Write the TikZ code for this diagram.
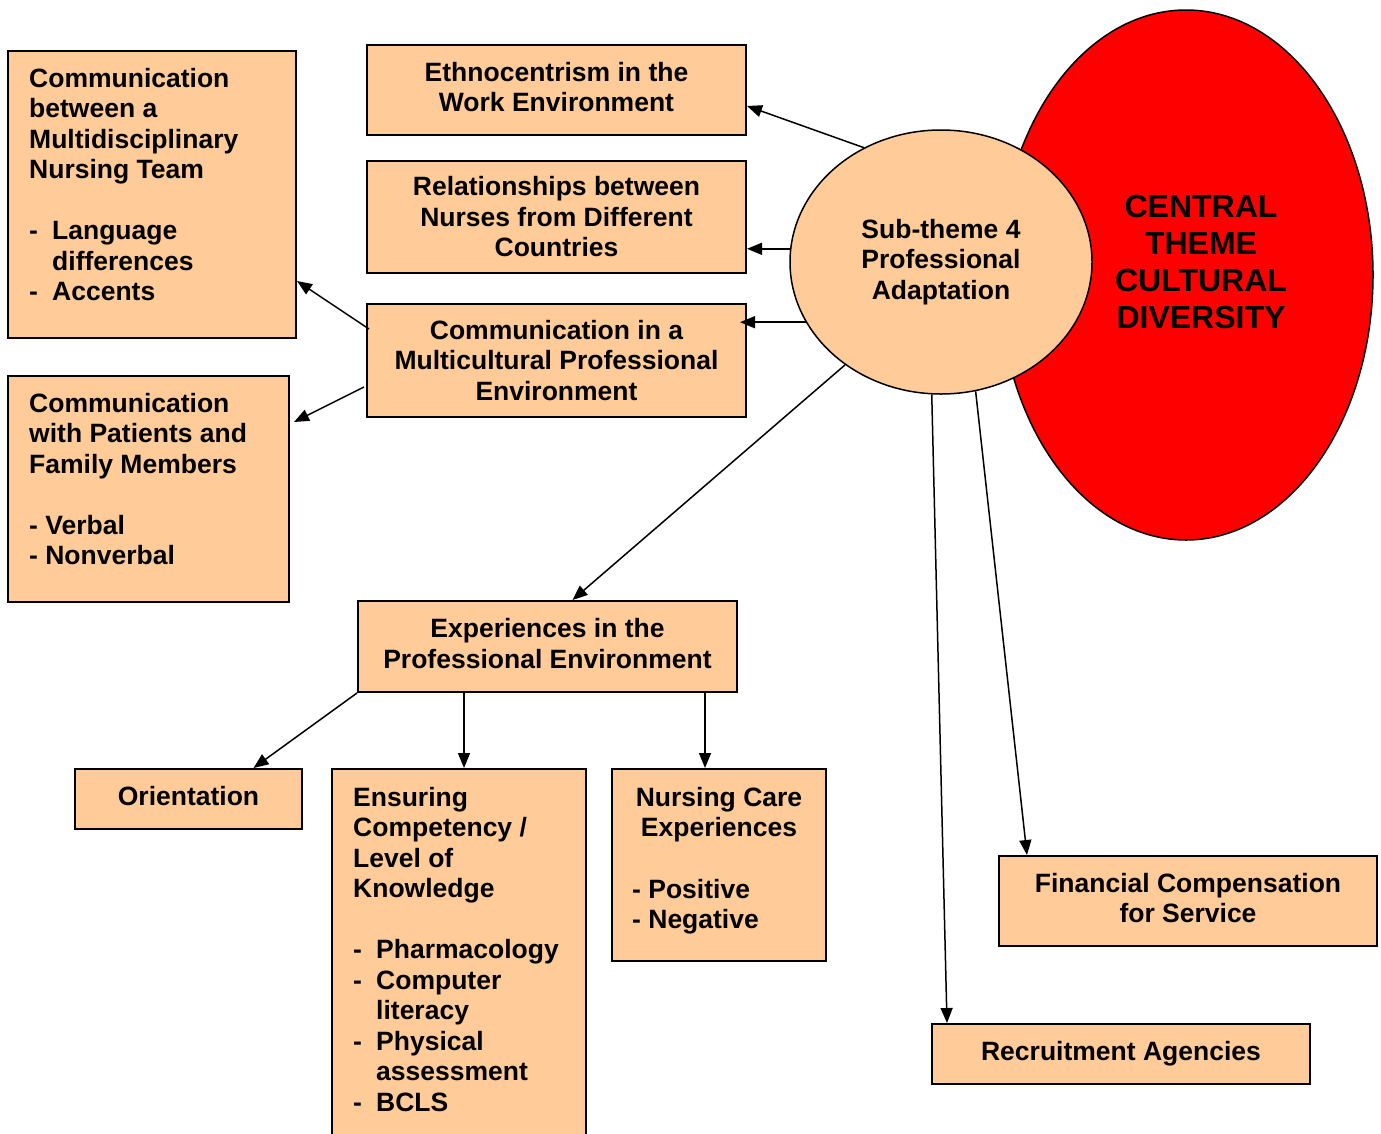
\documentclass[tikz,border=0pt]{standalone}
\usepackage{fontspec}
\setmainfont{Liberation Sans}
\usetikzlibrary{shapes.geometric,arrows.meta,calc}
\definecolor{peach}{HTML}{FFCC99}
\begin{document}
\begin{tikzpicture}[x=1pt,y=-1pt,
  box/.style={draw=black, line width=2pt, fill=peach, rectangle, inner sep=0pt},
  txt/.style={inner sep=0pt, font=\fontsize{26.5}{30.5}\selectfont\bfseries, align=center},
  ltxt/.style={inner sep=0pt, font=\fontsize{26.5}{30.5}\selectfont\bfseries, align=left, anchor=north west},
  arr/.style={line width=1.5pt, -{Triangle[length=15pt,width=12pt]}}]
\useasboundingbox (0,0) rectangle (1381,1133);

% central theme
\node[ellipse, draw=black, line width=1.5pt, fill=red, minimum width=374pt, minimum height=530pt, inner sep=0pt] (central) at (1186,275) {};
\node[inner sep=0pt, font=\fontsize{32}{37}\selectfont\bfseries, align=center] (centraltxt) at (1201,262) {CENTRAL\\THEME\\CULTURAL\\DIVERSITY};

% sub-theme
\node[ellipse, draw=black, line width=1.5pt, fill=peach, minimum width=302pt, minimum height=264pt, inner sep=0pt, txt] (sub) at (941,262) {Sub-theme 4\\Professional\\Adaptation};

% left boxes
\node[box, minimum width=288pt, minimum height=287pt] (boxA) at (152,194.5) {};
\node[ltxt] (boxAt) at (29,68) {Communication\\between a\\Multidisciplinary\\Nursing Team\\[30.5pt]\makebox[23pt][l]{-}Language\\\hspace*{23pt}differences\\\makebox[23pt][l]{-}Accents};

\node[box, minimum width=281pt, minimum height=226pt] (boxB) at (148.5,489) {};
\node[ltxt] (boxBt) at (29,393) {Communication\\with Patients and\\Family Members\\[30.5pt]- Verbal\\- Nonverbal};

% middle boxes
\node[box, txt, text depth=6pt, minimum width=379pt, minimum height=90pt] (eth) at (556.5,90) {Ethnocentrism in the\\Work Environment};
\node[box, txt, minimum width=379pt, minimum height=112pt] (rel) at (556.5,217) {Relationships between\\Nurses from Different\\Countries};
\node[box, txt, minimum width=379pt, minimum height=113pt] (comm) at (556.5,360.5) {Communication in a\\Multicultural Professional\\Environment};
\node[box, txt, text depth=6pt, minimum width=379pt, minimum height=91pt] (exp) at (547.5,646.5) {Experiences in the\\Professional Environment};

% bottom boxes
\node[box, txt, text depth=6pt, minimum width=227pt, minimum height=60pt] (orient) at (188.5,799) {Orientation};
\node[box, minimum width=254pt, minimum height=381pt] (ens) at (459,959.5) {};
\node[ltxt] (enst) at (353,787) {Ensuring\\Competency /\\Level of\\Knowledge\\[30.5pt]\makebox[23pt][l]{-}Pharmacology\\\makebox[23pt][l]{-}Computer\\\hspace*{23pt}literacy\\\makebox[23pt][l]{-}Physical\\\hspace*{23pt}assessment\\\makebox[23pt][l]{-}BCLS};

\node[box, minimum width=214pt, minimum height=192pt] (nurs) at (719,865) {};
\node[txt, anchor=north] (nurst) at (719,787) {Nursing Care\\Experiences};
\node[ltxt] (nursb) at (632,879) {- Positive\\- Negative};

\node[box, txt, text depth=6pt, minimum width=378pt, minimum height=90pt] (fin) at (1188,901) {Financial Compensation\\for Service};
\node[box, txt, minimum width=378pt, minimum height=60pt] (recr) at (1121,1054) {Recruitment Agencies};

% connectors
\draw[arr] (sub.124) -- ($(eth.east)+(0,16)$);
\draw[arr] (sub.175) -- (sub.175 -| rel.east);
\draw[arr] (sub.204) -- ($(sub.204 -| comm.east)+(-7,0)$);
\draw[arr] ($(comm.north west)+(3,26)$) -- ($(boxA.south east)+(0,-58)$);
\draw[arr] ($(comm.south west)+(-2,-31)$) -- ($(boxB.north east)+(4,47)$);
\draw[arr] (sub.227) -- ($(exp.north)+(25,0)$);
\draw[arr] (exp.south west) -- ($(orient.north)+(65,0)$);
\coordinate (ensin) at ($(ens.north west)+(133,0)$);
\draw[arr] (ensin |- exp.south) -- (ensin);
\coordinate (nursin) at ($(nurs.north west)+(94,0)$);
\draw[arr] (nursin |- exp.south) -- (nursin);
\draw[arr] (sub.266) -- ($(recr.north west)+(16,0)$);
\draw[arr] (sub.285) -- ($(fin.north west)+(29,0)$);
\end{tikzpicture}
\end{document}
